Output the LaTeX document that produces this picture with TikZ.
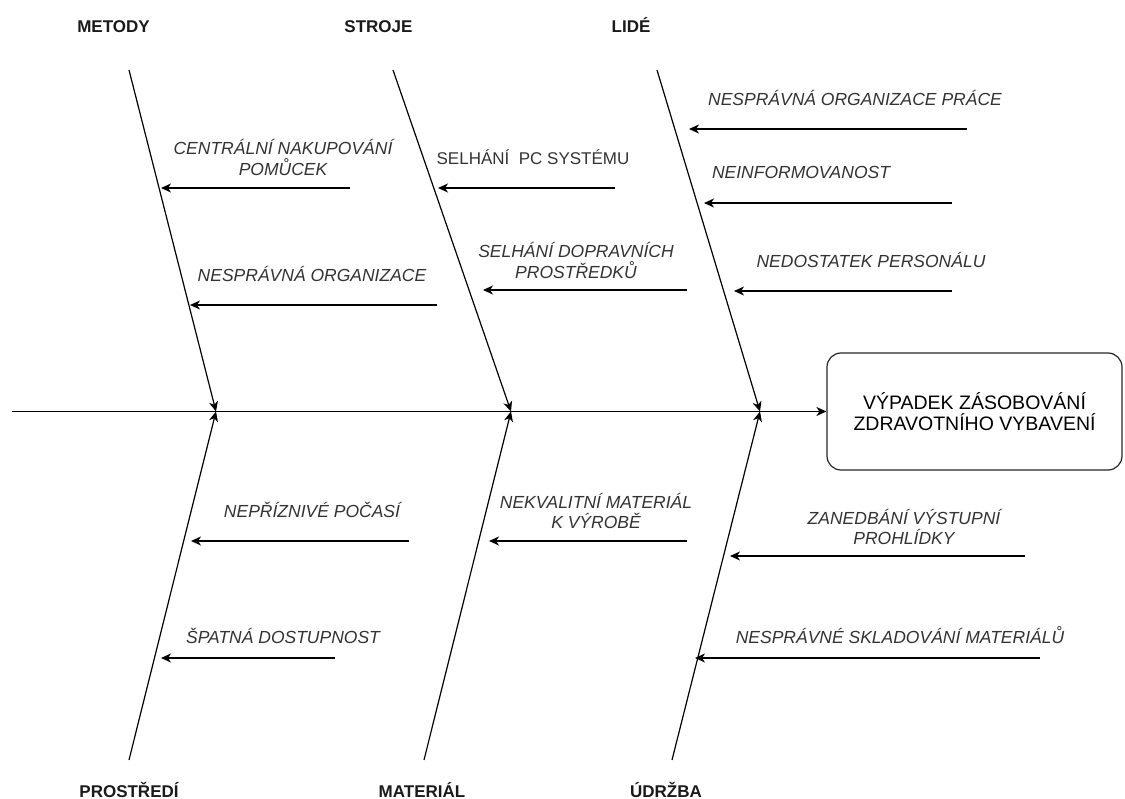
\documentclass[tikz,border=0pt]{standalone}
\usepackage{fontspec}
\setmainfont{Liberation Sans}
\usetikzlibrary{arrows.meta}
\definecolor{txt}{HTML}{333333}
\definecolor{lbl}{HTML}{1A1A1A}
\begin{document}
\begin{tikzpicture}[x=1pt,y=-1pt,
  bone/.style={line width=1.2pt, draw=black},
  arr/.style={line width=1.2pt, draw=black, -{Stealth[length=10pt,width=9pt,inset=3pt]}},
  cat/.style={font=\fontsize{17}{20}\selectfont\bfseries, text=lbl, inner sep=0pt, anchor=base},
  cause/.style={font=\fontsize{17.5}{20.5}\selectfont\itshape, text=txt, align=center, inner sep=0pt},
  causeplain/.style={font=\fontsize{17}{20.5}\selectfont, text=txt, align=center, inner sep=0pt},
  effect/.style={draw=black!85, line width=1.2pt, rounded corners=14pt, minimum width=295pt, minimum height=117pt, align=center, font=\fontsize{19.5}{21}\selectfont, text=black, inner sep=0pt}
]
\useasboundingbox (0,0) rectangle (1125,799);

% effect box and spine
\node[effect] (effect) at (974.5,411.5) {VÝPADEK ZÁSOBOVÁNÍ\\ZDRAVOTNÍHO VYBAVENÍ};
\coordinate (tail) at (12,411.5);
\draw[arr] (tail) -- (effect.west);

% junctions on the spine
\coordinate (jM) at (216,411.5);
\coordinate (jS) at (511,411.5);
\coordinate (jL) at (760,411.5);

% bone ends
\coordinate (tM) at (129,70);
\coordinate (tS) at (393,70);
\coordinate (tL) at (657,70);
\coordinate (bP) at (129,760);
\coordinate (bMa) at (424,760);
\coordinate (bU) at (672,760);

\draw[arr] (tM) -- (jM);
\draw[arr] (tS) -- (jS);
\draw[arr] (tL) -- (jL);
\draw[arr] (bP) -- (jM);
\draw[arr] (bMa) -- (jS);
\draw[arr] (bU) -- (jL);

% category labels
\node[cat] (metody) at (113.5,33) {METODY};
\node[cat] (stroje) at (378.5,33) {STROJE};
\node[cat] (lide) at (631,33) {LIDÉ};
\node[cat] (prostredi) at (129,797) {PROSTŘEDÍ};
\node[cat] (material) at (422,797) {MATERIÁL};
\node[cat] (udrzba) at (666,797) {ÚDRŽBA};

% METODY causes
\node[cause] (m1) at (283,157.5) {CENTRÁLNÍ NAKUPOVÁNÍ\\POMŮCEK};
\coordinate (m1s) at (350,188); \coordinate (m1e) at (161,188);
\draw[arr] (m1s) -- (m1e);
\node[cause, anchor=base] (m2) at (312,282) {NESPRÁVNÁ ORGANIZACE};
\coordinate (m2s) at (437,305); \coordinate (m2e) at (190,305);
\draw[arr] (m2s) -- (m2e);

% STROJE causes
\node[causeplain, anchor=base] (s1) at (533,165) {SELHÁNÍ~~PC SYSTÉMU};
\coordinate (s1s) at (615,188); \coordinate (s1e) at (438,188);
\draw[arr] (s1s) -- (s1e);
\node[cause] (s2) at (576,260.5) {SELHÁNÍ DOPRAVNÍCH\\PROSTŘEDKŮ};
\coordinate (s2s) at (687,290); \coordinate (s2e) at (483,290);
\draw[arr] (s2s) -- (s2e);

% LIDE causes
\node[cause, anchor=base] (l1) at (855,106) {NESPRÁVNÁ ORGANIZACE PRÁCE};
\coordinate (l1s) at (967,129); \coordinate (l1e) at (689,129);
\draw[arr] (l1s) -- (l1e);
\node[cause, anchor=base] (l2) at (801,179) {NEINFORMOVANOST};
\coordinate (l2s) at (952,203); \coordinate (l2e) at (704,203);
\draw[arr] (l2s) -- (l2e);
\node[cause, anchor=base] (l3) at (871,268) {NEDOSTATEK PERSONÁLU};
\coordinate (l3s) at (952,291); \coordinate (l3e) at (734,291);
\draw[arr] (l3s) -- (l3e);

% PROSTREDI causes
\node[cause, anchor=base] (p1) at (312,518) {NEPŘÍZNIVÉ POČASÍ};
\coordinate (p1s) at (409,541); \coordinate (p1e) at (191,541);
\draw[arr] (p1s) -- (p1e);
\node[cause, anchor=base] (p2) at (283,643) {ŠPATNÁ DOSTUPNOST};
\coordinate (p2s) at (335,658); \coordinate (p2e) at (161,658);
\draw[arr] (p2s) -- (p2e);

% MATERIAL causes
\node[cause] (ma1) at (596,511) {NEKVALITNÍ MATERIÁL\\K VÝROBĚ};
\coordinate (ma1s) at (687,541); \coordinate (ma1e) at (489,541);
\draw[arr] (ma1s) -- (ma1e);

% UDRZBA causes
\node[cause] (u1) at (904,527) {ZANEDBÁNÍ VÝSTUPNÍ\\PROHLÍDKY};
\coordinate (u1s) at (1025,556); \coordinate (u1e) at (730,556);
\draw[arr] (u1s) -- (u1e);
\node[cause, anchor=base] (u2) at (900,643) {NESPRÁVNÉ SKLADOVÁNÍ MATERIÁLŮ};
\coordinate (u2s) at (1040,658); \coordinate (u2e) at (695,658);
\draw[arr] (u2s) -- (u2e);
\end{tikzpicture}
\end{document}
